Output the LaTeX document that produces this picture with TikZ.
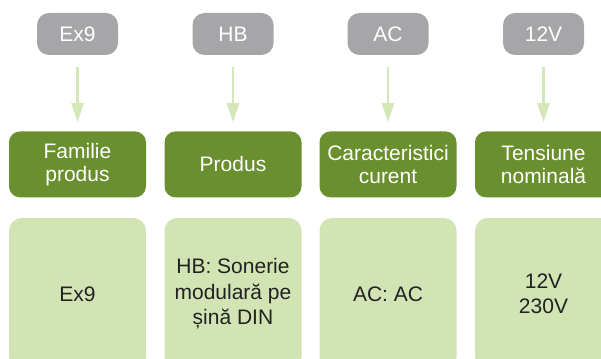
\documentclass[tikz,border=0pt]{standalone}
\usepackage{fontspec}
\setmainfont{Liberation Sans}
\usepackage{tikz}
\usetikzlibrary{arrows.meta}
\usetikzlibrary{positioning}
\definecolor{ashgray}{RGB}{166, 166, 168}
\definecolor{olivegreen}{RGB}{106, 143, 46}
\definecolor{palegreen}{RGB}{210, 228, 180}
\definecolor{arrowgreen}{RGB}{212, 231, 184}
\definecolor{inkgray}{RGB}{34, 34, 34}

\tikzset{
  codebox/.style={fill=ashgray, text=white, rounded corners=12pt, minimum width=81pt, minimum height=42pt,
                  inner sep=0pt, font=\fontsize{21}{23}\selectfont},
  fieldbox/.style={fill=olivegreen, text=white, rounded corners=11pt, minimum width=137pt, minimum height=66pt,
                  inner sep=0pt, align=center, font=\fontsize{21}{23}\selectfont},
  valuebox/.style={fill=palegreen, text=inkgray, rounded corners=13pt, minimum width=137pt, minimum height=152pt,
                  inner sep=0pt, align=center, font=\fontsize{21}{25.5}\selectfont},
  pointer/.style={draw=arrowgreen, line width=2.5pt, -{Triangle[width=12pt,length=19pt]},
                  shorten <=12pt, shorten >=9pt}
}

\begin{document}
\begin{tikzpicture}[x=1pt, y=-1pt]
            \path[use as bounding box, clip]                    (0, 0) rectangle (601, 358);
            % codes
            \node[codebox] (seriesCode)  at ( 77.5, 34) {Ex9};
            \node[codebox] (productCode) at (233.0, 34) {HB};
            \node[codebox] (currentCode) at (388.0, 34) {AC};
            \node[codebox] (voltageCode) at (543.5, 34) {12V};
            % fields
            \node[fieldbox, below=76pt of seriesCode]  (seriesField)  {Familie\\produs};
            \node[fieldbox, below=76pt of productCode] (productField) {Produs};
            \node[fieldbox, below=76pt of currentCode] (currentField) {Caracteristici\\curent};
            \node[fieldbox, below=76pt of voltageCode] (voltageField) {Tensiune\\nominală};
            % values
            \node[valuebox, below=20pt of seriesField]  (seriesValue)  {Ex9};
            \node[valuebox, below=20pt of productField] (productValue) {HB: Sonerie\\modulară pe\\șină DIN};
            \node[valuebox, below=20pt of currentField] (currentValue) {AC: AC};
            \node[valuebox, below=20pt of voltageField] (voltageValue) {12V\\230V};
            % arrows
            \draw[pointer] (seriesCode)  -- (seriesField);
            \draw[pointer] (productCode) -- (productField);
            \draw[pointer] (currentCode) -- (currentField);
            \draw[pointer] (voltageCode) -- (voltageField);
\end{tikzpicture}
\end{document}
